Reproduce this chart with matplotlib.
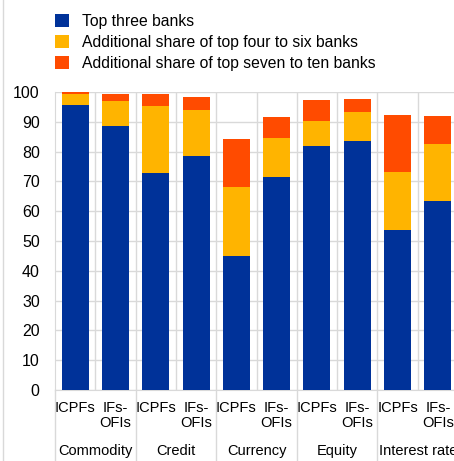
import matplotlib
matplotlib.use('Agg')
import matplotlib.pyplot as plt
import numpy as np
from matplotlib.lines import Line2D
from matplotlib.patches import Patch
import matplotlib.transforms as mtrans

plt.rcParams['font.family'] = ['Liberation Sans', 'DejaVu Sans']

# dados
groups = ['Commodity', 'Credit', 'Currency', 'Equity', 'Interest rate']
sectors = ['ICPFs', 'IFs-\nOFIs']
top3 = [95.7, 88.5, 72.7, 78.6, 45.0, 71.5, 81.8, 83.4, 53.8, 63.4]
top4_6 = [3.5, 8.5, 22.6, 15.2, 23.2, 13.2, 8.4, 10.0, 19.5, 19.2]
top7_10 = [0.8, 2.2, 3.9, 4.5, 16.0, 6.9, 7.1, 4.1, 19.1, 9.3]
series_names = ['Top three banks',
                'Additional share of top four to six banks',
                'Additional share of top seven to ten banks']
colors = ['#003299', '#FFB400', '#FF4B00']
grid_col = '#d9d9d9'

W, H = 454, 461
fig = plt.figure(figsize=(W/100, H/100), dpi=100)
ax = fig.add_axes([55/W, (H-390)/H, 403/W, 298/H])

x = np.arange(len(top3))
a = np.array(top3); b = np.array(top4_6); c = np.array(top7_10)
ax.bar(x, a, 0.67, color=colors[0], zorder=3)
ax.bar(x, b, 0.67, bottom=a, color=colors[1], zorder=3)
ax.bar(x, c, 0.67, bottom=a+b, color=colors[2], zorder=3)

ax.set_xlim(-0.5, len(x)-0.5)
ax.set_ylim(0, 100)
ax.set_yticks(np.arange(0, 101, 10))
ax.yaxis.grid(True, color=grid_col, lw=1, zorder=0)
for xi in np.arange(0.5, len(x)-0.5, 1.0):
    ax.axvline(xi, color=grid_col, lw=1, zorder=0)

for s in ['top', 'right']:
    ax.spines[s].set_visible(False)
ax.spines['left'].set_color(grid_col)
ax.spines['bottom'].set_color(grid_col)

ax.set_xticks(x)
ax.set_xticklabels(sectors*len(groups), fontsize=10.5, linespacing=1.1)
ax.tick_params(axis='x', length=0, pad=8)
ax.tick_params(axis='y', length=0, pad=11, labelsize=11.5)

# separadores dos grupos e nomes
tr = mtrans.blended_transform_factory(ax.transData, fig.transFigure)
for g in range(len(groups)+1):
    xs = 2*g - 0.5
    fig.add_artist(Line2D([xs, xs], [0, (H-390)/H], transform=tr, color=grid_col, lw=1))
for g, name in enumerate(groups):
    fig.text(2*g+0.5, (H-451)/H, name, transform=tr, ha='center', va='center', fontsize=10.5)

# linha cinza na borda esquerda
fig.add_artist(Line2D([3/W, 3/W], [0, 1], transform=fig.transFigure, color=grid_col, lw=1))

handles = [Patch(facecolor=col, edgecolor='none') for col in colors]
fig.legend(handles, series_names, loc='upper left', bbox_to_anchor=(55/W, 1-14/H),
           frameon=False, fontsize=11.3, handlelength=0.9, handleheight=0.9,
           handletextpad=0.8, labelspacing=0.38, borderpad=0, borderaxespad=0)

fig.savefig('out.png', dpi=100)
